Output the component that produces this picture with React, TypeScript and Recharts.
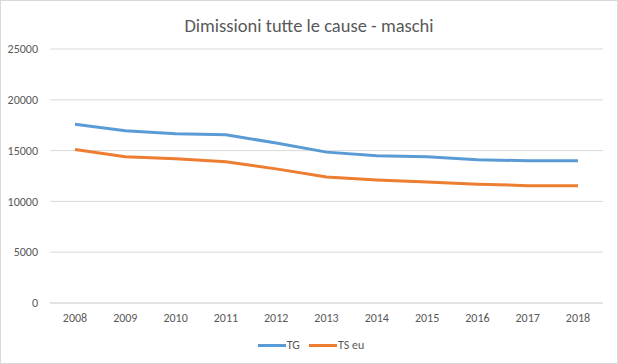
import React from "react";
import {
  LineChart,
  Line,
  XAxis,
  YAxis,
  CartesianGrid,
  Legend,
} from "recharts";

const years = ["2008", "2009", "2010", "2011", "2012", "2013", "2014", "2015", "2016", "2017", "2018"];
const tg = [17600, 16950, 16650, 16550, 15750, 14850, 14500, 14400, 14100, 14000, 14000];
const tsEu = [15100, 14400, 14200, 13900, 13200, 12400, 12100, 11900, 11700, 11550, 11550];
const yTicks = [0, 5000, 10000, 15000, 20000, 25000];

const seriesNames = ["TG", "TS eu"];
const COLORS = ["#5B9BD5", "#ED7D31"];

const data = years.map((year, i) => ({
  year,
  TG: tg[i],
  "TS eu": tsEu[i],
}));

const FONT = "Carlito, Calibri, Lato, sans-serif";
const TEXT = "#595959";

function LegendContent() {
  return (
    <div
      style={{
        display: "flex",
        justifyContent: "center",
        alignItems: "center",
        height: 26,
        fontFamily: FONT,
        fontSize: 12,
        color: TEXT,
      }}
    >
      {seriesNames.map((name, i) => (
        <div
          key={name}
          style={{ display: "flex", alignItems: "center", marginRight: i === 0 ? 9 : 0 }}
        >
          <div style={{ width: 28, height: 3, background: COLORS[i], marginRight: 1 }} />
          <span>{name}</span>
        </div>
      ))}
    </div>
  );
}

export default function App() {
  return (
    <div
      style={{
        position: "absolute",
        left: 0,
        top: 0,
        width: 618,
        height: 364,
        background: "#fff",
      }}
    >
      <div
        style={{
          position: "absolute",
          top: 14,
          left: 0,
          width: 618,
          textAlign: "center",
          fontFamily: FONT,
          fontSize: 18.5,
          color: TEXT,
        }}
      >
        Dimissioni tutte le cause - maschi
      </div>

      <LineChart
        width={618}
        height={364}
        data={data}
        margin={{ top: 49, right: 15, bottom: 6, left: 0 }}
      >
        <CartesianGrid vertical={false} stroke="#d9d9d9" />
        <XAxis
          dataKey="year"
          height={29}
          axisLine={{ stroke: "#d9d9d9" }}
          tickLine={false}
          tickSize={6}
          tickMargin={4}
          padding={{ left: 25, right: 25 }}
          tick={{ fill: TEXT, fontSize: 12, fontFamily: FONT }}
        />
        <YAxis
          width={50}
          domain={[0, 25000]}
          ticks={yTicks}
          axisLine={false}
          tickLine={false}
          tickSize={6}
          tickMargin={6}
          tick={{ fill: TEXT, fontSize: 12, fontFamily: FONT }}
        />
        <Legend
          verticalAlign="bottom"
          height={26}
          wrapperStyle={{ left: 0, width: 622 }}
          content={<LegendContent />}
        />
        {seriesNames.map((name, i) => (
          <Line
            key={name}
            type="linear"
            dataKey={name}
            stroke={COLORS[i]}
            strokeWidth={3}
            dot={false}
            isAnimationActive={false}
          />
        ))}
      </LineChart>

      <div
        style={{
          position: "absolute",
          left: 0,
          top: 0,
          width: 618,
          height: 364,
          boxSizing: "border-box",
          border: "1px solid #d9d9d9",
          pointerEvents: "none",
        }}
      />
    </div>
  );
}
